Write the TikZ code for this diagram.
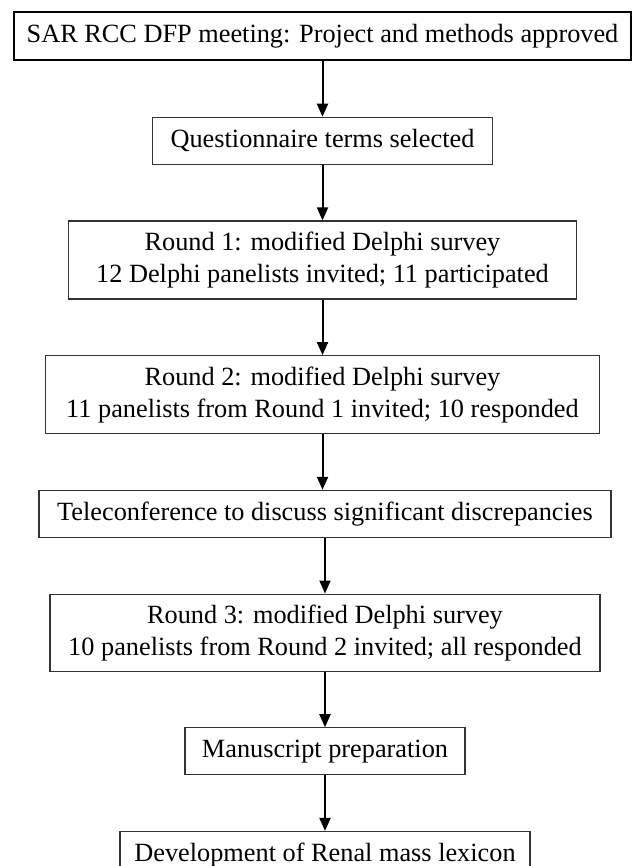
\documentclass[tikz,border=0pt]{standalone}
\usepackage{fontspec}
\setmainfont{Liberation Serif}
\usetikzlibrary{positioning,arrows.meta}
\tikzstyle{sbox}=[rectangle, draw=black!80, line width=1.2pt, fill=white,
                  minimum height=47pt, inner sep=2pt, align=center,
                  font=\fontsize{26.3pt}{32pt}\selectfont]
\tikzstyle{dbox}=[sbox, minimum height=78pt]
\tikzstyle{pline}=[-{Triangle[length=13pt,width=11pt]}, line width=2pt]

\begin{document}
\begin{tikzpicture}[node distance=55.5pt]
\useasboundingbox (0,0) rectangle (632pt,-866pt);

\node (MEETING) [sbox, draw=black, line width=2.4pt, minimum width=617pt,
  minimum height=48pt] at (322.5pt,-36pt) {SAR RCC DFP meeting: Project and methods approved};

\node (TERMS) [sbox, minimum width=340pt, below=of MEETING] {Questionnaire terms selected};
 \draw[pline] (MEETING.south) -- (TERMS.north);

\node (ROUNDA) [dbox, minimum width=508pt, below=of TERMS] {Round 1: modified Delphi survey\\
  12 Delphi panelists invited; 11 participated};
 \draw[pline] (TERMS.south) -- (ROUNDA.north);

\node (ROUNDB) [dbox, minimum width=554pt, below=of ROUNDA] {Round 2: modified Delphi survey\\
  11 panelists from Round 1 invited; 10 responded};
 \draw[pline] (ROUNDA.south) -- (ROUNDB.north);

\node (TELECONF) [sbox, minimum width=572pt, below=of ROUNDB, xshift=2.5pt] {Teleconference to discuss significant discrepancies};
 \draw[pline] (ROUNDB.south) -- (ROUNDB.south |- TELECONF.north);

\node (ROUNDC) [dbox, minimum height=77pt, minimum width=550pt, below=of TELECONF] {Round 3: modified Delphi survey\\
  10 panelists from Round 2 invited; all responded};
 \draw[pline] (TELECONF.south) -- (ROUNDC.north);

\node (MANUS) [sbox, minimum width=280pt, below=of ROUNDC] {Manuscript preparation};
 \draw[pline] (ROUNDC.south) -- (MANUS.north);

\node (LEXICON) [sbox, minimum width=410pt, below=of MANUS] {Development of Renal mass lexicon};
 \draw[pline] (MANUS.south) -- (LEXICON.north);

\end{tikzpicture}
\end{document}
